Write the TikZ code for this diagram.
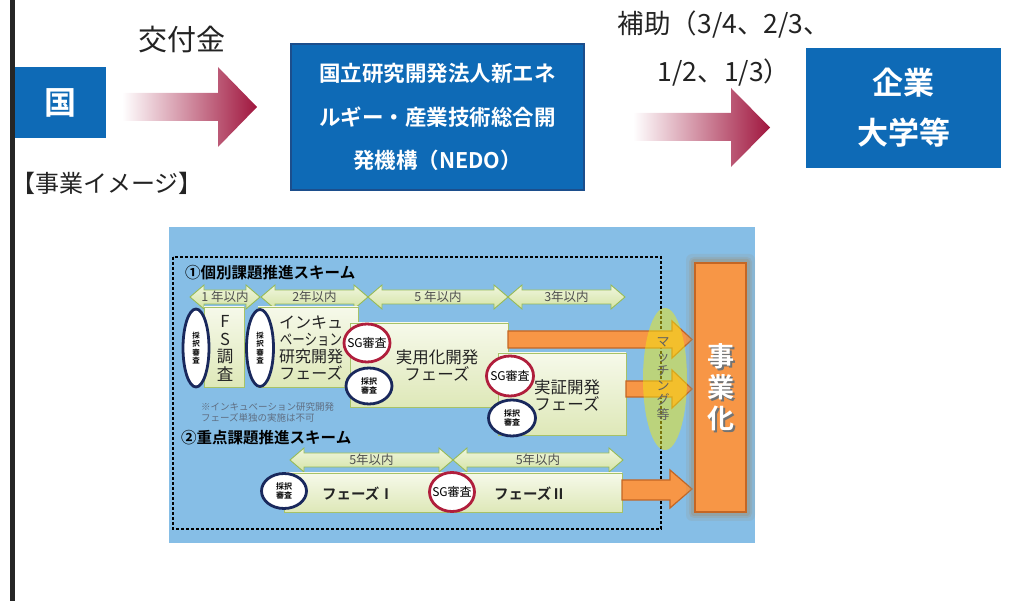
\documentclass[tikz,border=0pt]{standalone}
\usepackage{fontspec}
\setmainfont{Noto Sans CJK JP}[BoldFont={Noto Sans CJK JP Bold}]
\usetikzlibrary{shapes.geometric}
\definecolor{boxblue}{RGB}{14,106,182}
\definecolor{boxedge}{RGB}{28,78,140}
\definecolor{crim}{RGB}{160,22,62}
\definecolor{skyb}{RGB}{134,190,230}
\definecolor{orf}{RGB}{247,150,70}
\definecolor{ord}{RGB}{196,102,36}
\definecolor{navyc}{RGB}{25,40,92}
\definecolor{revred}{RGB}{176,30,60}
\definecolor{gtop}{RGB}{246,249,234}
\definecolor{gbot}{RGB}{222,232,184}
\definecolor{gedge}{RGB}{166,194,104}
\definecolor{atop}{RGB}{240,246,222}
\definecolor{abot}{RGB}{212,227,165}
\definecolor{aedge}{RGB}{150,186,86}
\definecolor{txtd}{RGB}{35,35,35}
\definecolor{notec}{RGB}{95,110,130}
\definecolor{matchc}{RGB}{240,232,20}
\newcommand{\fsz}[2]{\fontsize{#1pt}{#2pt}\selectfont}
\newcommand{\dblarr}[5]{%
  \path[dblar] (#2,#3) -- ++(14,-12) -- ++(0,5) -- ++(#4-28,0) -- ++(0,-5) -- ++(14,12)
     -- ++(-14,12) -- ++(0,-5) -- ++(-#4+28,0) -- ++(0,5) -- cycle;
  \node[yearlbl] (#1) at (#2+#4/2,#3) {#5};}
\begin{document}
\begin{tikzpicture}[x=1pt,y=-1pt,
  bluebox/.style={fill=boxblue, text=white, inner sep=0, align=center, font=\bfseries},
  toptxt/.style={text=txtd, inner sep=0, align=center},
  gbox/.style={draw=gedge, line width=0.8pt, top color=gtop, bottom color=gbot, inner sep=0},
  boxtxt/.style={text=txtd, inner sep=0, align=center},
  dblar/.style={draw=aedge, line width=0.9pt, top color=atop, bottom color=abot},
  yearlbl/.style={text=txtd!80, inner sep=0, font=\fsz{12.5}{14}},
  review/.style={ellipse, draw=navyc, line width=2.8pt, fill=white, inner sep=0},
  sgrev/.style={ellipse, draw=revred, line width=2.8pt, fill=white, inner sep=0},
  revtxt/.style={text=black, inner sep=0, align=center, font=\fsz{7.5}{8.4}\bfseries},
  sgtxt/.style={text=black, inner sep=0, font=\fsz{12}{14}},
  orarr/.style={fill=orf, draw=ord, line width=1.2pt},
  grarr/.style={left color=white, right color=crim},
  title/.style={text=black, inner sep=0, anchor=west, font=\fsz{15.5}{18}\bfseries},
]
\useasboundingbox (0,0) rectangle (1010,601);
\fill[black!85] (10,0) rectangle (15,601);

% ---- top part ----
\node[bluebox, minimum width=91pt, minimum height=71pt, font=\fsz{32}{36}\bfseries] (kuni) at (60,102.5) {国};
\node[toptxt, font=\fsz{29}{32}] (kofu) at (182,40) {交付金};
\node[toptxt, font=\fsz{24}{28}] (image) at (107,183) {【事業イメージ】};
\node[bluebox, draw=boxedge, line width=1.5pt, minimum width=293pt, minimum height=146pt, font=\fsz{21.5}{43.5}\bfseries] (nedo) at (437.5,117)
  {国立研究開発法人新エネ\\ルギー・産業技術総合開\\発機構（NEDO）};
\node[bluebox, minimum width=195pt, minimum height=120pt, font=\fsz{31}{50}\bfseries] (kigyo) at (903.5,108) {企業\\大学等};
\node[toptxt, font=\fsz{26.5}{48}] (hojo) at (724,49) {補助（3/4、2/3、\\1/2、1/3）};
\path[grarr] (122,93) -- (218,93) -- (218,67) -- (257,107) -- (218,147) -- (218,121) -- (122,121) -- cycle;
\path[grarr] (633,113) -- (731,113) -- (731,88) -- (770,127.5) -- (731,167) -- (731,141) -- (633,141) -- cycle;

% ---- inner figure ----
\fill[skyb] (169,227) rectangle (755,543);
\draw[black, line width=1.4pt, dash pattern=on 3pt off 2pt] (173,257) rectangle (661,529);
\node[title] (t1) at (185,273) {①個別課題推進スキーム};
\node[title] (t2) at (181,438) {②重点課題推進スキーム};

\dblarr{y1}{190}{297}{70}{1 年以内}
\dblarr{y2}{261}{297}{107}{2年以内}
\dblarr{y3}{368}{297}{140}{5 年以内}
\dblarr{y4}{508}{297}{117}{3年以内}
\dblarr{y5}{290}{460}{163}{5年以内}
\dblarr{y6}{453}{460}{170}{5年以内}

% phase boxes
\node[gbox, minimum width=40pt, minimum height=80pt] (fs) at (224,347) {};
\node[boxtxt, font=\fsz{16.5}{17.7}] (fst) at (225,348.5) {F\\S\\調\\査};
\node[gbox, minimum width=100pt, minimum height=80pt] (inc) at (308,347) {};
\node[boxtxt, font=\fsz{16}{17}] (inct) at (311,348.5) {インキュ\\\scalebox{0.78}[1]{ベーション}\\研究開発\\フェーズ};
\node[gbox, minimum width=158pt, minimum height=84pt] (jy) at (429,365) {};
\node[boxtxt, font=\fsz{16.5}{17.5}] (jyt) at (437,365.5) {実用化開発\\フェーズ};
\node[gbox, minimum width=128pt, minimum height=82pt] (js) at (562,394) {};
\node[boxtxt, font=\fsz{16.5}{17.5}] (jst) at (567,395.5) {実証開発\\フェーズ};
\node[gbox, minimum width=174pt, minimum height=39pt] (p1) at (371,492.5) {};
\node[gbox, minimum width=170pt, minimum height=39pt] (p2) at (537,492.5) {};
\node[boxtxt, font=\fsz{14.5}{16}\bfseries] (p1t) at (358,494) {フェーズⅠ};
\node[boxtxt, font=\fsz{14.5}{16}\bfseries] (p2t) at (530,494) {フェーズⅡ};

\node[text=notec, inner sep=0, anchor=west, align=left, font=\fsz{9.5}{11}] (note) at (201,412.5)
  {※インキュベーション研究開発\\フェーズ単独の実施は不可};

% review ellipses
\node[review, minimum width=26pt, minimum height=78pt, label={[revtxt]center:採\\択\\審\\査}] (e1) at (196,348) {};
\node[review, minimum width=27pt, minimum height=77pt, label={[revtxt]center:採\\択\\審\\査}] (e2) at (260,348) {};
\node[sgrev, minimum width=46pt, minimum height=38pt, label={[sgtxt]center:SG審査}] (sg1) at (367,343) {};
\node[review, minimum width=46pt, minimum height=36pt, label={[revtxt, font=\fsz{8}{9.2}\bfseries]center:採択\\審査}] (e3) at (369,386) {};
\node[sgrev, minimum width=47pt, minimum height=40pt, label={[sgtxt]center:SG審査}] (sg2) at (510,376) {};
\node[review, minimum width=47pt, minimum height=36pt, label={[revtxt, font=\fsz{8}{9.2}\bfseries]center:採択\\審査}] (e4) at (512,418) {};
\node[review, minimum width=45pt, minimum height=35pt, label={[revtxt, font=\fsz{8}{9.2}\bfseries]center:採択\\審査}] (e5) at (284,491) {};
\node[sgrev, minimum width=45pt, minimum height=39pt, label={[sgtxt]center:SG審査}] (sg3) at (452,492) {};

% orange arrows to commercialization
\path[orarr] (508,331) -- (672,331) -- (672,321) -- (692,339.5) -- (672,358) -- (672,348) -- (508,348) -- cycle;
\path[orarr] (626,381) -- (672,381) -- (672,370) -- (692,389) -- (672,408) -- (672,397) -- (626,397) -- cycle;
\path[orarr] (622,480) -- (670,480) -- (670,470) -- (692,489) -- (670,508) -- (670,500) -- (622,500) -- cycle;

% commercialization box with glow
\fill[rounded corners=6pt, color={rgb,255:red,160;green,140;blue,110}, opacity=0.15] (686,254) rectangle (755,521);
\fill[rounded corners=5pt, color={rgb,255:red,160;green,140;blue,110}, opacity=0.2] (689,257) rectangle (752,518);
\fill[rounded corners=3pt, color={rgb,255:red,160;green,140;blue,110}, opacity=0.3] (691,259) rectangle (750,516);
\node[fill=orf, draw=ord, line width=2.5pt, minimum width=51pt, minimum height=249pt, inner sep=0] (jig) at (720.5,387.5) {};
\node[text=black!55, inner sep=0, align=center, font=\fsz{27}{31}\bfseries] (jigs) at (722.5,389.5) {事\\業\\化};
\node[text=white, inner sep=0, align=center, font=\fsz{27}{31}\bfseries] (jigt) at (721,387.5) {事\\業\\化};

% matching ellipse
\node[ellipse, fill=matchc, fill opacity=0.5, minimum width=44pt, minimum height=142pt, inner sep=0] (match) at (665,379) {};
\node[text=black!62, inner sep=0, align=center, font=\fsz{13}{14.5}] (matcht) at (663,379) {マ\\ッ\\チ\\ン\\グ\\等};
\end{tikzpicture}
\end{document}
